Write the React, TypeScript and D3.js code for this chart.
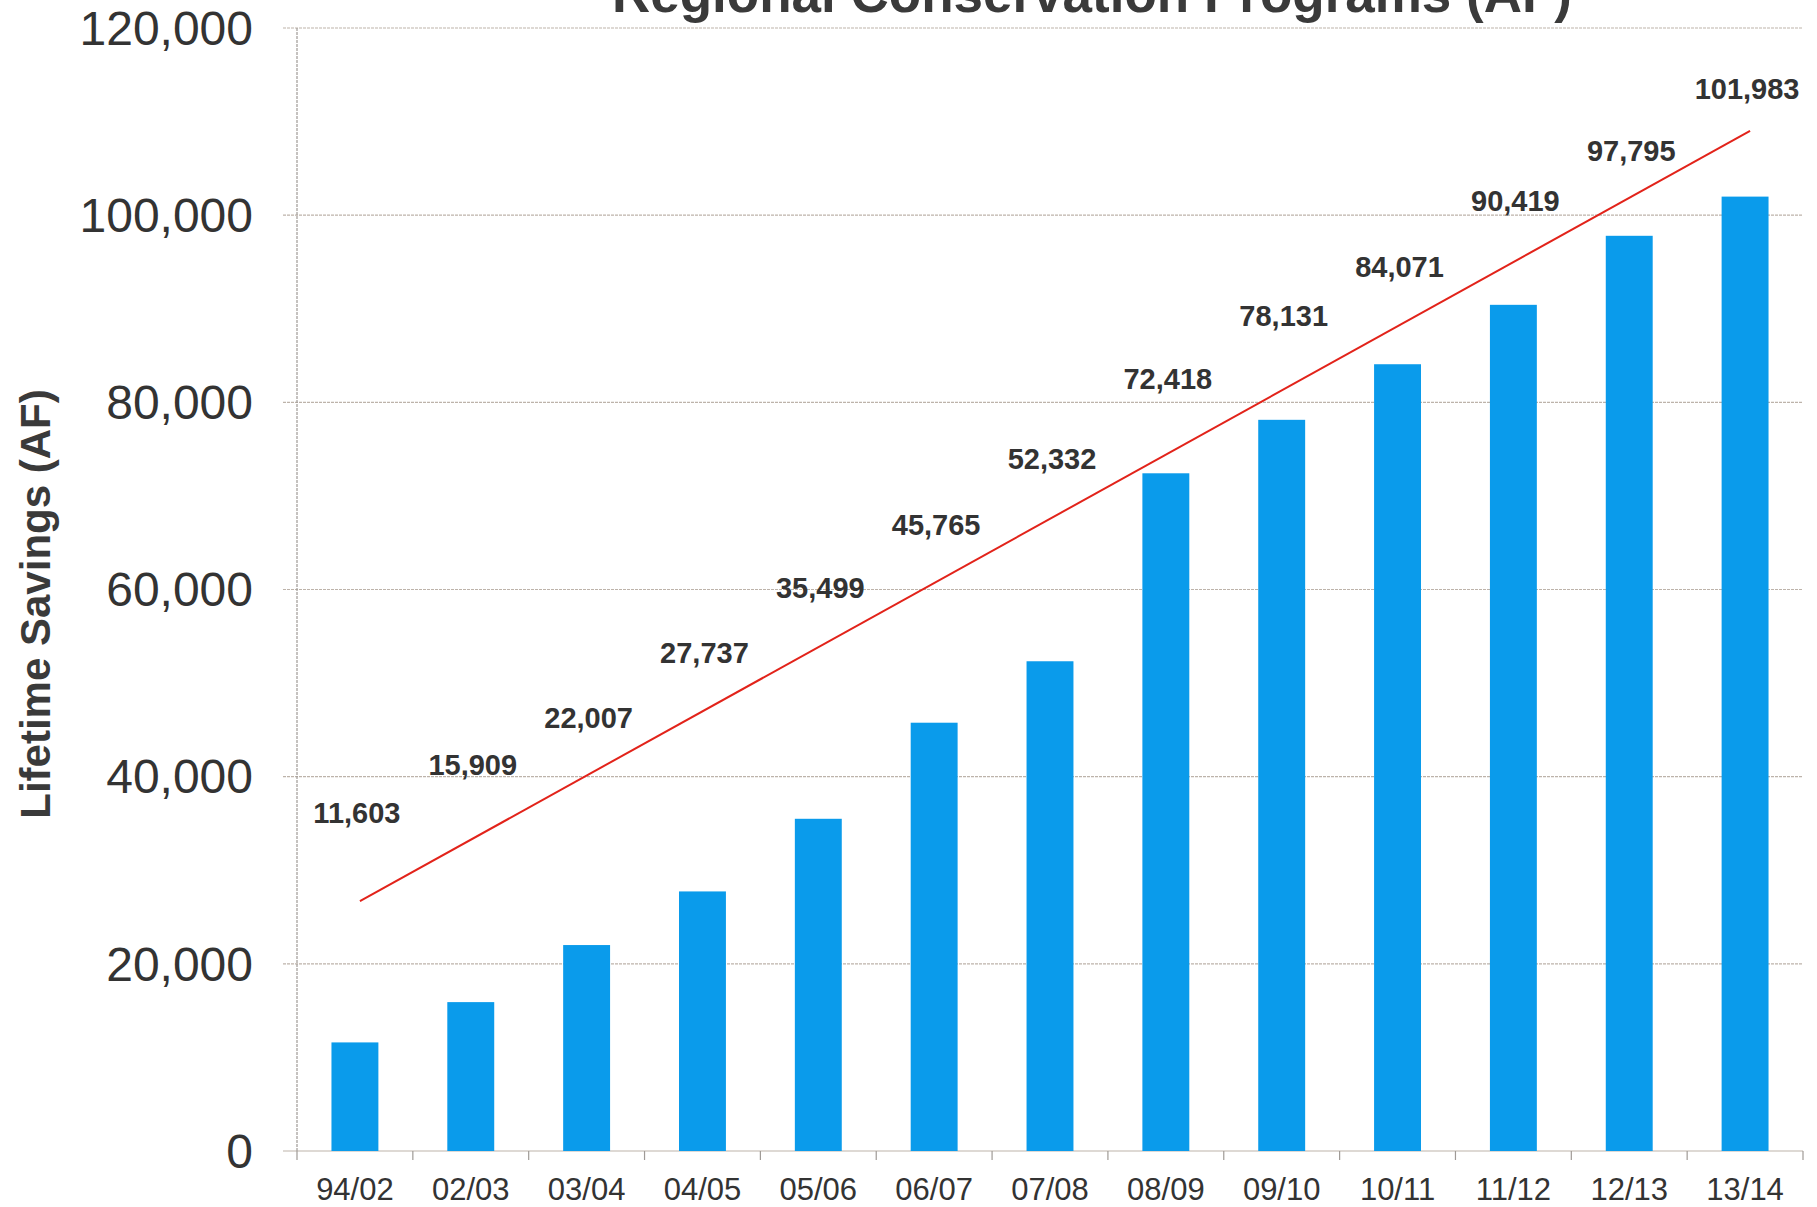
import React from "react";
import * as d3 from "d3";

const categories = ["94/02", "02/03", "03/04", "04/05", "05/06", "06/07", "07/08", "08/09", "09/10", "10/11", "11/12", "12/13", "13/14"];
const savings = [11603, 15909, 22007, 27737, 35499, 45765, 52332, 72418, 78131, 84071, 90419, 97795, 101983];
// level (in AF units) at which each value label sits in the original
const labelLevels = [35000, 40200, 45150, 52100, 59050, 65850, 72900, 81450, 88150, 93350, 100400, 105750, 112450];
// decorative trend line: start value at first category, end value at last category
const trendStart = 26700;
const trendEnd = 109000;
const yTicks = [0, 20000, 40000, 60000, 80000, 100000, 120000];

const title = "Regional Conservation Programs (AF)";
const yTitle = "Lifetime Savings (AF)";

const W = 1817;
const H = 1207;
const left = 297;
const right = 1803;
const top = 28;
const bottom = 1151;

export default function App() {
  const x = d3.scaleBand<string>().domain(categories).range([left, right]).paddingInner(0.595).paddingOuter(0.2975);
  const y = d3.scaleLinear().domain([0, 120000]).range([bottom, top]);
  const step = x.step();
  const bw = x.bandwidth();
  const cx = (c: string) => (x(c) as number) + bw / 2;
  const fmt = d3.format(",");
  const tickXs = d3.range(categories.length + 1).map((i) => left + i * step);
  const trend = d3.line<[number, number]>().x((d) => d[0]).y((d) => y(d[1]));
  const trendPts: [number, number][] = [
    [cx(categories[0]) + 5, trendStart],
    [cx(categories[categories.length - 1]) + 5, trendEnd],
  ];
  const font = "'Liberation Sans', Arial, sans-serif";

  return (
    <svg width={W} height={H} style={{ position: "absolute", left: 0, top: 0, background: "#fff" }} fontFamily={font}>
      <rect x={0} y={0} width={W} height={H} fill="#ffffff" />
      {/* gridlines */}
      {yTicks.map((t) => (
        <line key={"g" + t} x1={left - 14} x2={right} y1={y(t)} y2={y(t)} stroke="#bdb3aa" strokeWidth={1.2} strokeDasharray={t === 0 ? undefined : "3,1"} />
      ))}
      {/* y axis line */}
      <line x1={left} x2={left} y1={top} y2={bottom} stroke="#9f9a96" strokeWidth={1.2} strokeDasharray="3,1" />
      {/* x ticks */}
      {tickXs.map((tx, i) => (
        <line key={"xt" + i} x1={tx} x2={tx} y1={bottom} y2={bottom + 9} stroke="#9f9a96" strokeWidth={1.2} />
      ))}
      {/* bars */}
      {categories.map((c, i) => (
        <rect key={c} x={x(c)} y={y(savings[i])} width={bw} height={y(0) - y(savings[i])} fill="#0a9beb" />
      ))}
      {/* trend line */}
      <path d={trend(trendPts) || ""} stroke="#e2231a" strokeWidth={2} fill="none" />
      {/* value labels */}
      {categories.map((c, i) => (
        <text key={"l" + c} x={cx(c) + 2} y={y(labelLevels[i])} textAnchor="middle" fontSize={29} fontWeight="bold" fill="#333333">
          {fmt(savings[i])}
        </text>
      ))}
      {/* y tick labels */}
      {yTicks.map((t) => (
        <text key={"yt" + t} x={253} y={y(t)} dy="0.35em" textAnchor="end" fontSize={48} fill="#333333">
          {fmt(t)}
        </text>
      ))}
      {/* x labels */}
      {categories.map((c) => (
        <text key={"xl" + c} x={cx(c)} y={1200} textAnchor="middle" fontSize={31} fill="#333333">
          {c}
        </text>
      ))}
      {/* y title */}
      <text transform={`translate(50,604) rotate(-90)`} textAnchor="middle" fontSize={42} fontWeight="bold" fill="#3a3a3a">
        {yTitle}
      </text>
      {/* title (cropped at top, as in the original) */}
      <text x={1092} y={12} textAnchor="middle" fontSize={53} fontWeight="bold" fill="#3a3a3a">
        {title}
      </text>
    </svg>
  );
}
